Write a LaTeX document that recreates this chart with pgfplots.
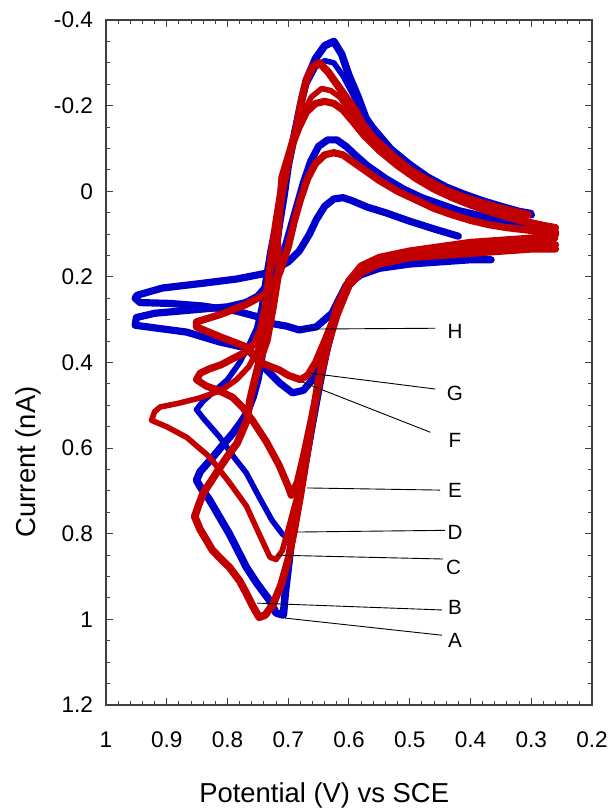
\documentclass[border=0pt]{standalone}
\usepackage{pgfplots}
\pgfplotsset{compat=1.18}
\usepackage{fontspec}
\setmainfont{Liberation Sans}
\definecolor{cvblue}{RGB}{0,0,205}
\definecolor{cvred}{RGB}{195,0,0}
\begin{document}
\begin{tikzpicture}
\begin{axis}[
  at={(0,0)}, anchor=south west,
  width=243pt, height=342.5pt, scale only axis,
  x dir=reverse, y dir=reverse,
  xmin=0.2, xmax=1, ymin=-0.4, ymax=1.2,
  xtick={1,0.9,0.8,0.7,0.6,0.5,0.4,0.3,0.2},
  xticklabels={1,0.9,0.8,0.7,0.6,0.5,0.4,0.3,0.2},
  ytick={-0.4,-0.2,0,0.2,0.4,0.6,0.8,1,1.2},
  yticklabels={-0.4,-0.2,0,0.2,0.4,0.6,0.8,1,1.2},
  minor x tick num=4, minor y tick num=3,
  major tick length=3.5pt, minor tick length=1.8pt,
  tick style={black!75, line width=0.5pt},
  axis line style={black!75, line width=0.6pt},
  ticklabel style={font=\fontsize{11.3}{13}\selectfont},
  xticklabel style={yshift=-10pt},
  yticklabel style={xshift=-3pt},
  every axis x label/.style={at={(axis description cs:0.449,-0.1314)}, anchor=center, font=\fontsize{13.7}{16}\selectfont},
  every axis y label/.style={at={(axis description cs:-0.1605,0.355)}, rotate=90, anchor=center, font=\fontsize{13.7}{16}\selectfont},
  xlabel={Potential (V) vs SCE},
  ylabel={Current (nA)},
  every axis plot/.append style={line join=round, line cap=round},
]
% Loop H (blue)
\addplot[cvblue, line width=3.6pt] coordinates {
(0.366,0.16)(0.40,0.16)(0.45,0.165)(0.50,0.17)(0.55,0.18)(0.58,0.195)(0.605,0.22)(0.628,0.285)(0.654,0.317)(0.682,0.324)(0.703,0.315)(0.731,0.308)(0.743,0.296)(0.785,0.28)(0.841,0.268)(0.895,0.262)(0.944,0.26)(0.952,0.25)(0.949,0.243)(0.907,0.226)(0.841,0.215)(0.785,0.205)(0.731,0.19)(0.70,0.165)(0.682,0.14)(0.665,0.10)(0.654,0.067)(0.64,0.035)(0.625,0.018)(0.61,0.015)(0.595,0.022)(0.57,0.037)(0.54,0.05)(0.50,0.07)(0.46,0.088)(0.42,0.105)
};
% Loop F (blue)
\addplot[cvblue, line width=3.6pt] coordinates {
(0.265,0.12)(0.30,0.125)(0.35,0.13)(0.40,0.14)(0.45,0.145)(0.50,0.155)(0.55,0.17)(0.58,0.19)(0.60,0.22)(0.62,0.28)(0.635,0.34)(0.65,0.40)(0.66,0.44)(0.675,0.465)(0.693,0.471)(0.714,0.448)(0.735,0.418)(0.751,0.394)(0.769,0.366)(0.813,0.352)(0.867,0.329)(0.952,0.313)(0.95,0.295)(0.92,0.285)(0.88,0.28)(0.84,0.275)(0.80,0.27)(0.77,0.26)(0.75,0.245)(0.735,0.22)(0.72,0.18)(0.705,0.13)(0.695,0.08)(0.685,0.03)(0.675,-0.02)(0.663,-0.07)(0.65,-0.105)(0.635,-0.12)(0.62,-0.12)(0.605,-0.105)(0.59,-0.085)(0.57,-0.06)(0.54,-0.03)(0.51,-0.005)(0.48,0.015)(0.45,0.03)(0.42,0.045)(0.39,0.055)(0.36,0.065)(0.33,0.073)(0.30,0.08)(0.27,0.085)
};
% Loop D (blue)
\addplot[cvblue, line width=2.8pt] coordinates {
(0.265,0.13)(0.30,0.13)(0.35,0.14)(0.40,0.145)(0.45,0.15)(0.50,0.16)(0.55,0.17)(0.58,0.19)(0.60,0.22)(0.62,0.29)(0.635,0.37)(0.648,0.46)(0.66,0.55)(0.67,0.63)(0.68,0.71)(0.688,0.78)(0.695,0.82)(0.71,0.80)(0.727,0.768)(0.748,0.714)(0.769,0.658)(0.79,0.62)(0.813,0.574)(0.84,0.53)(0.851,0.51)(0.84,0.49)(0.824,0.47)(0.80,0.44)(0.78,0.40)(0.765,0.36)(0.752,0.32)(0.744,0.27)(0.738,0.21)(0.73,0.14)(0.72,0.07)(0.71,0.0)(0.70,-0.07)(0.69,-0.14)(0.68,-0.20)(0.67,-0.25)(0.655,-0.29)(0.64,-0.305)(0.625,-0.30)(0.61,-0.27)(0.595,-0.23)(0.58,-0.19)(0.56,-0.15)(0.53,-0.10)(0.50,-0.065)(0.47,-0.035)(0.44,-0.012)(0.41,0.005)(0.38,0.02)(0.35,0.033)(0.32,0.045)(0.30,0.05)
};
% Loop A (blue)
\addplot[cvblue, line width=3.8pt] coordinates {
(0.265,0.115)(0.30,0.12)(0.35,0.13)(0.40,0.135)(0.45,0.14)(0.50,0.145)(0.55,0.16)(0.58,0.18)(0.60,0.21)(0.615,0.26)(0.63,0.33)(0.645,0.42)(0.655,0.50)(0.665,0.58)(0.675,0.66)(0.685,0.74)(0.695,0.82)(0.70,0.88)(0.705,0.94)(0.708,0.99)(0.72,0.985)(0.731,0.955)(0.752,0.915)(0.769,0.878)(0.797,0.80)(0.83,0.72)(0.845,0.69)(0.851,0.675)(0.845,0.655)(0.824,0.621)(0.806,0.59)(0.791,0.565)(0.778,0.54)(0.768,0.518)(0.758,0.481)(0.75,0.44)(0.745,0.40)(0.741,0.36)(0.737,0.32)(0.733,0.27)(0.728,0.21)(0.722,0.15)(0.715,0.08)(0.707,0.01)(0.70,-0.06)(0.69,-0.13)(0.68,-0.20)(0.67,-0.26)(0.655,-0.31)(0.64,-0.34)(0.625,-0.35)(0.612,-0.32)(0.60,-0.27)(0.585,-0.22)(0.572,-0.17)(0.55,-0.12)(0.52,-0.075)(0.49,-0.04)(0.464,-0.018)(0.435,0.002)(0.408,0.018)(0.38,0.03)(0.354,0.04)(0.33,0.047)(0.30,0.055)
};
% Loop G (red)
\addplot[cvred, line width=3.6pt] coordinates {
(0.26,0.125)(0.30,0.125)(0.35,0.13)(0.40,0.135)(0.45,0.14)(0.50,0.15)(0.55,0.165)(0.58,0.185)(0.60,0.215)(0.62,0.28)(0.64,0.35)(0.655,0.40)(0.668,0.43)(0.68,0.44)(0.70,0.43)(0.714,0.418)(0.746,0.40)(0.768,0.364)(0.812,0.34)(0.851,0.317)(0.851,0.305)(0.812,0.288)(0.77,0.265)(0.735,0.238)(0.714,0.19)(0.70,0.13)(0.69,0.07)(0.68,0.02)(0.668,-0.03)(0.655,-0.065)(0.64,-0.085)(0.625,-0.09)(0.61,-0.085)(0.595,-0.07)(0.575,-0.05)(0.55,-0.025)(0.52,0.0)(0.49,0.02)(0.46,0.04)(0.43,0.055)(0.40,0.068)(0.37,0.078)(0.34,0.085)(0.31,0.09)(0.28,0.095)(0.26,0.095)
};
% Loop E (red)
\addplot[cvred, line width=3.6pt] coordinates {
(0.26,0.135)(0.30,0.135)(0.35,0.14)(0.40,0.145)(0.45,0.15)(0.50,0.155)(0.55,0.17)(0.58,0.19)(0.60,0.22)(0.62,0.29)(0.635,0.36)(0.65,0.45)(0.663,0.54)(0.675,0.62)(0.685,0.68)(0.695,0.71)(0.70,0.69)(0.715,0.64)(0.736,0.585)(0.759,0.535)(0.775,0.505)(0.792,0.481)(0.815,0.465)(0.835,0.455)(0.851,0.44)(0.845,0.425)(0.83,0.415)(0.81,0.405)(0.79,0.39)(0.769,0.375)(0.755,0.355)(0.745,0.32)(0.738,0.27)(0.733,0.21)(0.727,0.14)(0.72,0.07)(0.712,0.0)(0.703,-0.06)(0.693,-0.11)(0.682,-0.15)(0.67,-0.185)(0.655,-0.205)(0.64,-0.21)(0.625,-0.205)(0.61,-0.19)(0.595,-0.165)(0.575,-0.13)(0.55,-0.095)(0.52,-0.06)(0.49,-0.03)(0.46,-0.005)(0.43,0.015)(0.40,0.032)(0.37,0.047)(0.34,0.06)(0.31,0.072)(0.28,0.08)(0.26,0.085)
};
% Loop C (red)
\addplot[cvred, line width=2.8pt] coordinates {
(0.26,0.11)(0.30,0.115)(0.35,0.125)(0.40,0.13)(0.45,0.135)(0.50,0.145)(0.55,0.16)(0.58,0.18)(0.60,0.215)(0.615,0.27)(0.63,0.34)(0.645,0.43)(0.66,0.53)(0.672,0.62)(0.685,0.71)(0.70,0.79)(0.71,0.84)(0.72,0.86)(0.73,0.855)(0.748,0.80)(0.769,0.735)(0.797,0.68)(0.83,0.62)(0.867,0.575)(0.90,0.55)(0.925,0.535)(0.92,0.515)(0.911,0.504)(0.88,0.495)(0.846,0.483)(0.81,0.465)(0.785,0.44)(0.765,0.41)(0.75,0.37)(0.742,0.33)(0.737,0.28)(0.732,0.22)(0.726,0.15)(0.718,0.08)(0.708,0.0)(0.698,-0.07)(0.688,-0.13)(0.676,-0.18)(0.662,-0.22)(0.645,-0.24)(0.63,-0.235)(0.615,-0.22)(0.60,-0.19)(0.58,-0.15)(0.56,-0.115)(0.53,-0.075)(0.50,-0.045)(0.47,-0.02)(0.44,0.0)(0.41,0.02)(0.38,0.035)(0.35,0.05)(0.32,0.065)(0.29,0.075)(0.26,0.085)
};
% Loop B (red)
\addplot[cvred, line width=3.8pt] coordinates {
(0.26,0.10)(0.30,0.11)(0.35,0.115)(0.40,0.12)(0.45,0.13)(0.50,0.14)(0.55,0.155)(0.58,0.175)(0.60,0.21)(0.62,0.27)(0.635,0.35)(0.65,0.44)(0.66,0.53)(0.67,0.62)(0.68,0.71)(0.69,0.79)(0.70,0.86)(0.712,0.92)(0.725,0.965)(0.738,0.99)(0.748,0.995)(0.758,0.97)(0.769,0.939)(0.78,0.91)(0.797,0.878)(0.81,0.86)(0.825,0.838)(0.845,0.79)(0.854,0.76)(0.848,0.735)(0.84,0.705)(0.826,0.675)(0.812,0.644)(0.798,0.615)(0.784,0.588)(0.768,0.535)(0.763,0.488)(0.758,0.457)(0.748,0.40)(0.735,0.348)(0.725,0.27)(0.716,0.19)(0.718,0.114)(0.715,0.06)(0.71,-0.033)(0.70,-0.08)(0.687,-0.143)(0.682,-0.183)(0.677,-0.22)(0.67,-0.26)(0.66,-0.29)(0.649,-0.30)(0.635,-0.28)(0.62,-0.25)(0.605,-0.22)(0.59,-0.19)(0.579,-0.16)(0.56,-0.125)(0.53,-0.085)(0.50,-0.05)(0.47,-0.025)(0.44,-0.002)(0.41,0.015)(0.38,0.028)(0.35,0.04)(0.32,0.05)(0.305,0.055)
};
% leader lines and labels
\draw[black, line width=0.45pt] (axis cs:0.681,0.322) -- (axis cs:0.458,0.320);
\draw[black, line width=0.45pt] (axis cs:0.664,0.425) -- (axis cs:0.458,0.462);
\draw[black, line width=0.45pt] (axis cs:0.676,0.446) -- (axis cs:0.466,0.563);
\draw[black, line width=0.45pt] (axis cs:0.669,0.693) -- (axis cs:0.450,0.698);
\draw[black, line width=0.45pt] (axis cs:0.686,0.796) -- (axis cs:0.442,0.792);
\draw[black, line width=0.45pt] (axis cs:0.718,0.850) -- (axis cs:0.445,0.859);
\draw[black, line width=0.45pt] (axis cs:0.751,0.962) -- (axis cs:0.447,0.978);
\draw[black, line width=0.45pt] (axis cs:0.705,0.997) -- (axis cs:0.447,1.037);
\node[font=\fontsize{10.3}{12}\selectfont] at (axis cs:0.4255,0.328) {H};
\node[font=\fontsize{10.3}{12}\selectfont] at (axis cs:0.4255,0.472) {G};
\node[font=\fontsize{10.3}{12}\selectfont] at (axis cs:0.4255,0.582) {F};
\node[font=\fontsize{10.3}{12}\selectfont] at (axis cs:0.4255,0.698) {E};
\node[font=\fontsize{10.3}{12}\selectfont] at (axis cs:0.4255,0.796) {D};
\node[font=\fontsize{10.3}{12}\selectfont] at (axis cs:0.428,0.878) {C};
\node[font=\fontsize{10.3}{12}\selectfont] at (axis cs:0.4255,0.971) {B};
\node[font=\fontsize{10.3}{12}\selectfont] at (axis cs:0.4255,1.049) {A};
\end{axis}
\pgfresetboundingbox
\path[use as bounding box] (-53pt,-52pt) rectangle (252.5pt,352.5pt);
\end{tikzpicture}
\end{document}
